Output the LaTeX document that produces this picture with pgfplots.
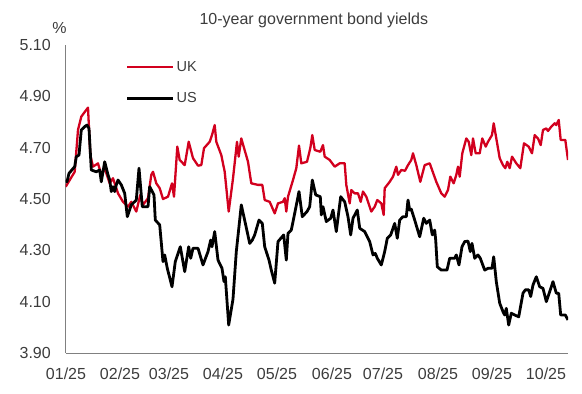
\documentclass[border=0pt]{standalone}
\usepackage{fontspec}
\setmainfont{Liberation Sans}
\usepackage{pgfplots}
\pgfplotsset{compat=1.18}
\definecolor{ukred}{RGB}{210,0,30}
\definecolor{txt}{RGB}{60,60,60}
\definecolor{axgray}{RGB}{128,128,128}
\begin{document}
\begin{tikzpicture}[x=1pt,y=1pt]
\begin{axis}[
  at={(65.7pt,41pt)}, anchor=south west,
  scale only axis, width=502.3pt, height=308pt,
  xmin=65.7, xmax=568, ymin=3.9, ymax=5.1,
  axis x line*=bottom, axis y line*=left,
  axis line style={axgray, line width=0.8pt, -},
  xtick={66,120,169,223,277,332,383,438,492,546},
  xticklabels={01/25,02/25,03/25,04/25,05/25,06/25,07/25,08/25,09/25,10/25},
  ytick={3.9,4.1,4.3,4.5,4.7,4.9,5.1},
  yticklabel={\pgfmathprintnumber[fixed,fixed zerofill,precision=2]{\tick}},
  /pgf/number format/assume math mode=true,
  major tick length=0pt,
  tick label style={font=\fontsize{16}{19}\selectfont, text=txt},
  yticklabel style={xshift=-11.4pt},
  xticklabel style={yshift=-11.5pt},
  title={10-year government bond yields},
  title style={font=\fontsize{16}{19}\selectfont, text=txt, at={(0.5,1)}, anchor=base, yshift=14.3pt, xshift=-3pt},
  legend style={at={(axis description cs:0.1195,0.955)}, anchor=north west, draw=none, fill=none, inner sep=0pt, row sep=16pt, font=\fontsize{14.5}{17}\selectfont, text=txt},
  legend cell align=left,
  legend image code/.code={\draw[#1] (0pt,0pt) -- (46pt,0pt);},
]
\addplot[ukred, line width=2.3pt, line join=round] coordinates {
(65.7,4.548) (74.7,4.606) (78,4.769) (81.3,4.821) (88,4.856) (90.3,4.671) (93,4.626) (98,4.639)
(101.3,4.594) (104.7,4.620) (109.7,4.561) (113,4.581) (118,4.522) (123,4.489) (128,4.470) (131.3,4.489)
(136.3,4.451) (140.3,4.516) (143,4.477) (148,4.503) (151.3,4.594) (153,4.606) (156.3,4.561) (159.7,4.542)
(163,4.500) (168,4.509) (172,4.561) (174,4.509) (177.3,4.704) (179.7,4.652) (184.7,4.632) (188.7,4.723)
(193,4.659) (198,4.630) (201.3,4.632) (204,4.698) (209.7,4.723) (212,4.749) (214.7,4.788) (216.3,4.723)
(221.3,4.671) (224.7,4.606) (228.7,4.451) (233,4.580) (237,4.723) (238.7,4.665) (241.3,4.736) (248,4.645)
(251.3,4.561) (258,4.555) (262.3,4.555) (264.7,4.496) (269.7,4.489) (274.7,4.444) (278,4.483) (283,4.489)
(284.7,4.503) (286.3,4.451) (288,4.509) (293,4.574) (296.3,4.620) (299,4.708) (301.3,4.639) (307,4.645)
(310.3,4.698) (312.3,4.749) (314.7,4.691) (320.3,4.684) (323,4.710) (324.7,4.665) (329.7,4.652) (334.7,4.626)
(339.7,4.639) (344.7,4.639) (346.3,4.555) (349.7,4.483) (351.3,4.535) (354.7,4.522) (358,4.522) (360.7,4.489)
(363,4.529) (366.3,4.509) (371.3,4.451) (374.7,4.470) (377.3,4.496) (381.3,4.483) (383.7,4.438) (384.7,4.542)
(389.7,4.567) (393,4.587) (396.3,4.626) (398,4.594) (401.3,4.613) (405,4.610) (408,4.632) (411.3,4.652)
(413,4.678) (416.3,4.632) (420.3,4.567) (424.7,4.632) (429.7,4.639) (436.3,4.567) (441.3,4.522) (444.7,4.509)
(448,4.535) (450.3,4.587) (453.7,4.561) (456.3,4.594) (458,4.626) (459.7,4.587) (462.3,4.678) (466.3,4.736)
(468.7,4.723) (471.3,4.671) (473,4.736) (475.7,4.678) (479.7,4.678) (482.3,4.736) (485.7,4.704) (488,4.723)
(492,4.749) (493.7,4.795) (496.3,4.736) (499.7,4.659) (503,4.632) (505.3,4.620) (507.3,4.645) (509.7,4.620)
(512,4.665) (516.3,4.639) (520.3,4.620) (524,4.717) (528.7,4.704) (532,4.678) (534.7,4.749) (538,4.736)
(540.7,4.710) (543,4.769) (546.3,4.775) (548,4.765) (551.3,4.782) (554.7,4.795) (556.3,4.788) (558.7,4.808)
(560.7,4.730) (565.3,4.730) (568,4.652)
};
\addlegendentry{UK}
\addplot[black, line width=2.8pt, line join=round] coordinates {
(65.7,4.574) (67,4.567) (69,4.600) (74.7,4.626) (76.3,4.665) (79,4.671) (81.3,4.769) (84.7,4.782)
(87,4.788) (89,4.775) (91.3,4.613) (96.3,4.606) (99.7,4.613) (101.3,4.567) (104.7,4.645) (108,4.594)
(109.7,4.574) (111.3,4.529) (113,4.548) (114.7,4.529) (116.3,4.555) (118,4.574) (121.3,4.555) (124.7,4.522)
(127.3,4.431) (131.3,4.477) (136.3,4.496) (139,4.620) (142.3,4.470) (148,4.470) (149.7,4.548) (154,4.516)
(155.3,4.418) (159.7,4.399) (163,4.256) (164.7,4.282) (167.3,4.230) (172,4.158) (175.3,4.256) (180.3,4.314)
(184.7,4.217) (188.7,4.314) (190.7,4.269) (193,4.308) (198,4.308) (203,4.243) (208,4.295) (210.7,4.340)
(212,4.314) (214.7,4.373) (218,4.262) (222,4.230) (224,4.178) (225.3,4.197) (228.7,4.009) (233,4.110)
(236.3,4.295) (241.3,4.477) (245.7,4.399) (249.7,4.327) (252.3,4.340) (254.7,4.360) (259,4.418) (262.3,4.405)
(264.7,4.314) (269,4.262) (271.3,4.223) (274.7,4.172) (278,4.334) (283.7,4.360) (286.3,4.262) (288,4.366)
(291.3,4.379) (294.7,4.444) (299,4.529) (302.3,4.431) (307,4.451) (309.7,4.470) (312.3,4.574) (315.7,4.516)
(320.3,4.509) (321.3,4.438) (323,4.470) (326.3,4.412) (330.7,4.425) (333,4.457) (336.3,4.373) (340.7,4.509)
(344.7,4.489) (348,4.431) (350.7,4.360) (353,4.425) (357.3,4.457) (359.7,4.386) (364.7,4.373) (369.7,4.334)
(373,4.282) (375.3,4.288) (377.3,4.269) (381.3,4.243) (384.7,4.295) (387.3,4.347) (390.7,4.360) (394.7,4.405)
(397.3,4.347) (399.7,4.418) (403,4.431) (406.3,4.431) (408,4.496) (409.7,4.457) (411.3,4.460) (414.7,4.418)
(419.7,4.353) (423.7,4.425) (426.3,4.405) (429.7,4.418) (432.3,4.360) (434.7,4.379) (435.7,4.340) (437.3,4.236)
(441.3,4.223) (447,4.223) (449.7,4.269) (454.7,4.269) (456.3,4.282) (459,4.243) (462,4.314) (464.7,4.334)
(468,4.336) (470.3,4.295) (472,4.327) (474.7,4.269) (478,4.282) (480.3,4.269) (484.7,4.223) (488,4.230)
(492,4.230) (493.7,4.275) (496.3,4.178) (499.7,4.094) (503,4.061) (504.7,4.048) (506.3,4.074) (508.7,4.009)
(511.3,4.055) (514.7,4.048) (518.7,4.041) (523,4.133) (525.3,4.146) (528.7,4.146) (530.7,4.120) (533,4.165)
(536.3,4.197) (539.7,4.158) (543,4.152) (546.3,4.100) (549.7,4.139) (553,4.178) (556.3,4.133) (558.7,4.133)
(560.7,4.048) (565.3,4.048) (568,4.029)
};
\addlegendentry{US}
\end{axis}
\node[anchor=base, text=txt, font=\fontsize{16}{19}\selectfont] at (59.5,360.7) {\%};
\pgfresetboundingbox
\path (0,0) rectangle (582,394);
\end{tikzpicture}
\end{document}
